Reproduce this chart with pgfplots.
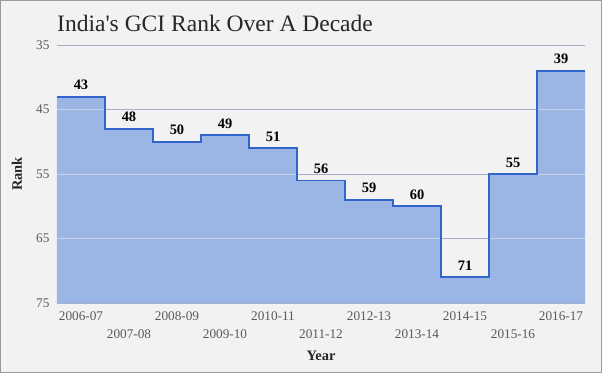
\documentclass[border=0pt]{standalone}
\usepackage{fontspec}
\setmainfont{Liberation Serif}
\usepackage{pgfplots}
\pgfplotsset{compat=1.18}
\definecolor{bg}{HTML}{F2F2F2}
\definecolor{areafill}{HTML}{9BB5E5}
\definecolor{stepline}{HTML}{3366CC}
\definecolor{gridc}{HTML}{A4AECB}
\definecolor{gridin}{HTML}{C6D1EC}
\definecolor{ticktext}{HTML}{595959}
\definecolor{frame}{HTML}{9A9A9A}
\begin{document}
\begin{tikzpicture}
\useasboundingbox (-57bp,-70bp) rectangle (545bp,303bp);
\fill[bg] (-57bp,-70bp) rectangle (545bp,303bp);
\draw[frame, line width=1bp] (-56.5bp,-69.5bp) rectangle (544.5bp,302.5bp);
\node[anchor=base west, font=\fontsize{23.6}{27}\selectfont, text=black!85, inner sep=0pt] at (0bp,271bp) {India\textquotesingle s GCI Rank Over A Decade};
\begin{axis}[
  at={(0,0)}, anchor=south west,
  scale only axis, width=528bp, height=258bp,
  xmin=-0.5, xmax=10.5, ymin=35, ymax=75, y dir=reverse,
  axis line style={draw=none},
  ytick={35,45,55,65,75},
  xtick={0,...,10},
  xticklabels={{\strut 2006-07},{\strut\\\strut 2007-08},{\strut 2008-09},{\strut\\\strut 2009-10},{\strut 2010-11},{\strut\\\strut 2011-12},{\strut 2012-13},{\strut\\\strut 2013-14},{\strut 2014-15},{\strut\\\strut 2015-16},{\strut 2016-17}},
  xticklabel style={align=center, font=\fontsize{13.3}{18}\selectfont, text=ticktext, yshift=-1bp},
  yticklabel style={font=\fontsize{13.3}{15}\selectfont, text=ticktext, xshift=-4bp},
  /pgf/number format/assume math mode=true,
  major tick length=0pt,
  ymajorgrids, grid style={gridc, line width=0.8bp},
  xlabel={\textbf{Year}}, ylabel={\textbf{Rank}},
  label style={font=\fontsize{14.5}{16}\selectfont, text=black!85},
  xlabel style={at={(axis description cs:0.5,-0.221)}, anchor=base},
  ylabel style={at={(axis description cs:-0.0758,0.5)}, anchor=center},
  clip=false,
]
% area fill
\addplot[fill=areafill, draw=none, const plot mark left, forget plot] coordinates {
  (-0.5,75) (-0.5,43) (0.5,48) (1.5,50) (2.5,49) (3.5,51) (4.5,56) (5.5,59) (6.5,60) (7.5,71) (8.5,55) (9.5,39) (10.5,39) (10.5,75) (-0.5,75)
};
% lighter gridlines across the filled area
\addplot[gridin, line width=0.8bp, forget plot] coordinates {(-0.5,65) (7.5,65)};
\addplot[gridin, line width=0.8bp, forget plot] coordinates {(8.5,65) (10.5,65)};
\addplot[gridin, line width=0.8bp, forget plot] coordinates {(-0.5,55) (4.5,55)};
\addplot[gridin, line width=0.8bp, forget plot] coordinates {(9.5,55) (10.5,55)};
\addplot[gridin, line width=0.8bp, forget plot] coordinates {(-0.5,45) (0.5,45)};
\addplot[gridin, line width=0.8bp, forget plot] coordinates {(9.5,45) (10.5,45)};
% step line
\addplot[stepline, line width=1.8bp, const plot mark left, forget plot] coordinates {
  (-0.5,43) (0.5,48) (1.5,50) (2.5,49) (3.5,51) (4.5,56) (5.5,59) (6.5,60) (7.5,71) (8.5,55) (9.5,39) (10.5,39)
};
% data labels
\addplot[draw=none, mark=none, nodes near coords,
  nodes near coords style={anchor=base, yshift=7bp, font=\bfseries\fontsize{14.5}{16}\selectfont, text=black},
  forget plot] coordinates {
  (0,43) (1,48) (2,50) (3,49) (4,51) (5,56) (6,59) (7,60) (8,71) (9,55) (10,39)
};
\end{axis}
\end{tikzpicture}
\end{document}
